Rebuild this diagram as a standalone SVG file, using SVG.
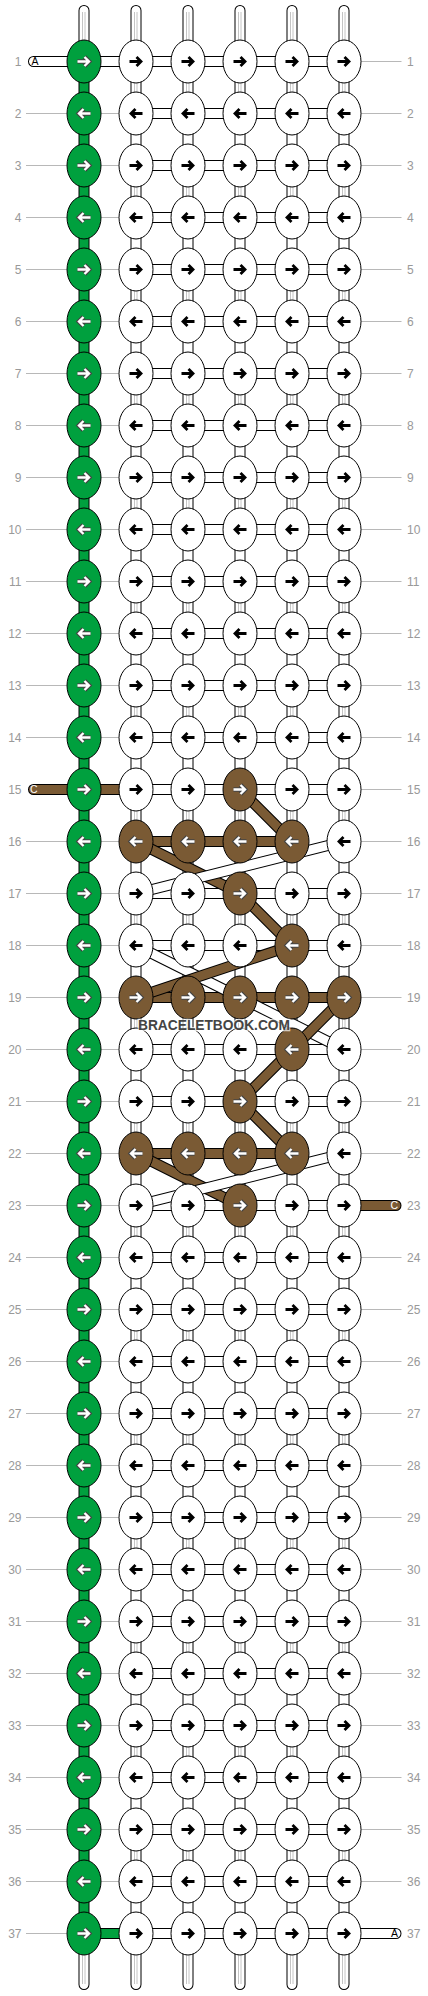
<svg xmlns="http://www.w3.org/2000/svg" xmlns:xlink="http://www.w3.org/1999/xlink" width="428" height="1996" viewBox="0 0 428 1996">
<style>
.w{fill:#fff;stroke:#000;stroke-width:1}
.g{fill:#00a03e;stroke:#000;stroke-width:1}
.b{fill:#7a5a34;stroke:#000;stroke-width:1}
.k{fill:none;stroke:#000;stroke-width:2.8}
.o{fill:none;stroke:#444;stroke-width:4.6}
.i{fill:none;stroke:#fff;stroke-width:2.4}
.ck{fill:none;stroke:#000;stroke-width:11}
.cw{fill:none;stroke:#fff;stroke-width:9}
.cb{fill:none;stroke:#7a5a34;stroke-width:9}
.cg{fill:none;stroke:#00a03e;stroke-width:9}
.rd{stroke-linecap:round;stroke-linejoin:round}
.gl{fill:none;stroke:#c4c4c4;stroke-width:1}
.ll{fill:none;stroke:#b8b8b8;stroke-width:1}
.lb{font-family:"Liberation Sans",Arial,sans-serif;font-size:12px;fill:#999}
.tl{font-family:"Liberation Sans",Arial,sans-serif;font-size:10.5px}
.wm{font-family:"Liberation Sans",Arial,sans-serif;font-size:14px;font-weight:bold;fill:#444;stroke:#fff;stroke-width:2.5;stroke-opacity:0.7;paint-order:stroke}
</style>
<defs>
<path id="a" d="M-6.5 0H5M0.5-4.5L5 0L0.5 4.5"/>
<g id="wR"><ellipse rx="17" ry="21.5" class="w"/><use href="#a" class="k"/></g>
<g id="wL"><ellipse rx="17" ry="21.5" class="w"/><use href="#a" class="k" transform="scale(-1 1)"/></g>
<g id="gR"><ellipse rx="17" ry="21.5" class="g"/><use href="#a" class="o"/><use href="#a" class="i"/></g>
<g id="gL"><ellipse rx="17" ry="21.5" class="g"/><use href="#a" class="o" transform="scale(-1 1)"/><use href="#a" class="i" transform="scale(-1 1)"/></g>
<g id="bR"><ellipse rx="17" ry="21.5" class="b"/><use href="#a" class="o"/><use href="#a" class="i"/></g>
<g id="bL"><ellipse rx="17" ry="21.5" class="b"/><use href="#a" class="o" transform="scale(-1 1)"/><use href="#a" class="i" transform="scale(-1 1)"/></g>
<path id="hw" d="M136 61.5H344M136 113.5H344M136 165.5H344M136 217.5H344M136 269.5H344M136 321.5H344M136 373.5H344M136 425.5H344M136 477.5H344M136 529.5H344M136 581.5H344M136 633.5H344M136 685.5H344M136 737.5H344M136 789.5H344M136 893.5H344M136 945.5H344M136 1049.5H344M136 1101.5H344M136 1205.5H344M136 1257.5H344M136 1309.5H344M136 1361.5H344M136 1413.5H344M136 1465.5H344M136 1517.5H344M136 1569.5H344M136 1621.5H344M136 1673.5H344M136 1725.5H344M136 1777.5H344M136 1829.5H344M136 1881.5H344M136 1933.5H344"/>
<path id="hb" d="M136 841.5H292M136 997.5H344M136 1153.5H292"/>
<path id="hg" d="M84 1933.5H136"/>
<path id="tw" d="M33.5 61.5H136M344 1933.5H396"/>
<path id="tb" d="M33.5 789.5H136M344 1205.5H396"/>
<path id="vw" d="M136 10.5V1984.5M188 10.5V1984.5M240 10.5V1984.5M292 10.5V1984.5M344 10.5V1984.5M84 10.5V61.5M84 1933.5V1984.5"/>
<path id="vg" d="M84 61.5V1933.5"/>
<path id="d1" d="M240 789.5L292 841.5M136 841.5L240 893.5M240 893.5L292 945.5"/>
<path id="d2" d="M344 841.5L136 893.5"/>
<path id="d3" d="M136 945.5L344 1049.5"/>
<path id="d4" d="M292 945.5L136 997.5"/>
<path id="d5" d="M344 997.5L292 1049.5L240 1101.5L292 1153.5M136 1153.5L240 1205.5"/>
<path id="d6" d="M344 1153.5L136 1205.5"/>
</defs>
<rect width="428" height="1996" fill="#fff"/>
<g id="connectors">
<path class="ll" d="M26 113.5H136M26 165.5H136M26 217.5H136M26 269.5H136M26 321.5H136M26 373.5H136M26 425.5H136M26 477.5H136M26 529.5H136M26 581.5H136M26 633.5H136M26 685.5H136M26 737.5H136M26 841.5H136M26 893.5H136M26 945.5H136M26 997.5H136M26 1049.5H136M26 1101.5H136M26 1153.5H136M26 1205.5H136M26 1257.5H136M26 1309.5H136M26 1361.5H136M26 1413.5H136M26 1465.5H136M26 1517.5H136M26 1569.5H136M26 1621.5H136M26 1673.5H136M26 1725.5H136M26 1777.5H136M26 1829.5H136M26 1881.5H136M26 1933.5H84M344 61.5H401.5M344 113.5H401.5M344 165.5H401.5M344 217.5H401.5M344 269.5H401.5M344 321.5H401.5M344 373.5H401.5M344 425.5H401.5M344 477.5H401.5M344 529.5H401.5M344 581.5H401.5M344 633.5H401.5M344 685.5H401.5M344 737.5H401.5M344 789.5H401.5M344 841.5H401.5M344 893.5H401.5M344 945.5H401.5M344 997.5H401.5M344 1049.5H401.5M344 1101.5H401.5M344 1153.5H401.5M344 1257.5H401.5M344 1309.5H401.5M344 1361.5H401.5M344 1413.5H401.5M344 1465.5H401.5M344 1517.5H401.5M344 1569.5H401.5M344 1621.5H401.5M344 1673.5H401.5M344 1725.5H401.5M344 1777.5H401.5M344 1829.5H401.5M344 1881.5H401.5"/>
<use href="#vw" class="ck rd"/><use href="#vw" class="cw rd"/>
<line class="gl" x1="134.5" y1="80" x2="134.5" y2="1870" stroke-dasharray="15 89"/>
<line class="gl" x1="137" y1="80" x2="137" y2="1870" stroke-dasharray="15 89"/>
<line class="gl" x1="186.5" y1="80" x2="186.5" y2="1870" stroke-dasharray="15 89"/>
<line class="gl" x1="189" y1="80" x2="189" y2="1870" stroke-dasharray="15 89"/>
<line class="gl" x1="238.5" y1="80" x2="238.5" y2="1870" stroke-dasharray="15 89"/>
<line class="gl" x1="241" y1="80" x2="241" y2="1870" stroke-dasharray="15 89"/>
<line class="gl" x1="290.5" y1="80" x2="290.5" y2="1870" stroke-dasharray="15 89"/>
<line class="gl" x1="293" y1="80" x2="293" y2="1870" stroke-dasharray="15 89"/>
<line class="gl" x1="342.5" y1="80" x2="342.5" y2="1870" stroke-dasharray="15 89"/>
<line class="gl" x1="345" y1="80" x2="345" y2="1870" stroke-dasharray="15 89"/>
<path class="gl" d="M82.5 12V45M85 12V45M134.5 12V45M137 12V45M186.5 12V45M189 12V45M238.5 12V45M241 12V45M290.5 12V45M293 12V45M342.5 12V45M345 12V45M82.5 1950V1984M85 1950V1984M134.5 1950V1984M137 1950V1984M186.5 1950V1984M189 1950V1984M238.5 1950V1984M241 1950V1984M290.5 1950V1984M293 1950V1984M342.5 1950V1984M345 1950V1984"/>
<use href="#vg" class="ck"/><use href="#vg" class="cg"/>
<use href="#hw" class="ck"/><use href="#hw" class="cw"/>
<use href="#hb" class="ck"/><use href="#hb" class="cb"/>
<use href="#hg" class="ck"/><use href="#hg" class="cg"/>
<use href="#tw" class="ck rd"/><use href="#tw" class="cw rd"/>
<use href="#tb" class="ck rd"/><use href="#tb" class="cb rd"/>
<use href="#d1" class="ck rd"/><use href="#d1" class="cb rd"/>
<use href="#d2" class="ck"/><use href="#d2" class="cw"/>
<use href="#d3" class="ck"/><use href="#d3" class="cw"/>
<use href="#d4" class="ck"/><use href="#d4" class="cb"/>
<use href="#d5" class="ck rd"/><use href="#d5" class="cb rd"/>
<use href="#d6" class="ck"/><use href="#d6" class="cw"/>
</g>
<g id="nodes">
<g id="n1_1"><use href="#gR" x="84" y="61.5"/></g><g id="n1_2"><use href="#wR" x="136" y="61.5"/></g><g id="n1_3"><use href="#wR" x="188" y="61.5"/></g><g id="n1_4"><use href="#wR" x="240" y="61.5"/></g><g id="n1_5"><use href="#wR" x="292" y="61.5"/></g><g id="n1_6"><use href="#wR" x="344" y="61.5"/></g>
<g id="n2_1"><use href="#gL" x="84" y="113.5"/></g><g id="n2_2"><use href="#wL" x="136" y="113.5"/></g><g id="n2_3"><use href="#wL" x="188" y="113.5"/></g><g id="n2_4"><use href="#wL" x="240" y="113.5"/></g><g id="n2_5"><use href="#wL" x="292" y="113.5"/></g><g id="n2_6"><use href="#wL" x="344" y="113.5"/></g>
<g id="n3_1"><use href="#gR" x="84" y="165.5"/></g><g id="n3_2"><use href="#wR" x="136" y="165.5"/></g><g id="n3_3"><use href="#wR" x="188" y="165.5"/></g><g id="n3_4"><use href="#wR" x="240" y="165.5"/></g><g id="n3_5"><use href="#wR" x="292" y="165.5"/></g><g id="n3_6"><use href="#wR" x="344" y="165.5"/></g>
<g id="n4_1"><use href="#gL" x="84" y="217.5"/></g><g id="n4_2"><use href="#wL" x="136" y="217.5"/></g><g id="n4_3"><use href="#wL" x="188" y="217.5"/></g><g id="n4_4"><use href="#wL" x="240" y="217.5"/></g><g id="n4_5"><use href="#wL" x="292" y="217.5"/></g><g id="n4_6"><use href="#wL" x="344" y="217.5"/></g>
<g id="n5_1"><use href="#gR" x="84" y="269.5"/></g><g id="n5_2"><use href="#wR" x="136" y="269.5"/></g><g id="n5_3"><use href="#wR" x="188" y="269.5"/></g><g id="n5_4"><use href="#wR" x="240" y="269.5"/></g><g id="n5_5"><use href="#wR" x="292" y="269.5"/></g><g id="n5_6"><use href="#wR" x="344" y="269.5"/></g>
<g id="n6_1"><use href="#gL" x="84" y="321.5"/></g><g id="n6_2"><use href="#wL" x="136" y="321.5"/></g><g id="n6_3"><use href="#wL" x="188" y="321.5"/></g><g id="n6_4"><use href="#wL" x="240" y="321.5"/></g><g id="n6_5"><use href="#wL" x="292" y="321.5"/></g><g id="n6_6"><use href="#wL" x="344" y="321.5"/></g>
<g id="n7_1"><use href="#gR" x="84" y="373.5"/></g><g id="n7_2"><use href="#wR" x="136" y="373.5"/></g><g id="n7_3"><use href="#wR" x="188" y="373.5"/></g><g id="n7_4"><use href="#wR" x="240" y="373.5"/></g><g id="n7_5"><use href="#wR" x="292" y="373.5"/></g><g id="n7_6"><use href="#wR" x="344" y="373.5"/></g>
<g id="n8_1"><use href="#gL" x="84" y="425.5"/></g><g id="n8_2"><use href="#wL" x="136" y="425.5"/></g><g id="n8_3"><use href="#wL" x="188" y="425.5"/></g><g id="n8_4"><use href="#wL" x="240" y="425.5"/></g><g id="n8_5"><use href="#wL" x="292" y="425.5"/></g><g id="n8_6"><use href="#wL" x="344" y="425.5"/></g>
<g id="n9_1"><use href="#gR" x="84" y="477.5"/></g><g id="n9_2"><use href="#wR" x="136" y="477.5"/></g><g id="n9_3"><use href="#wR" x="188" y="477.5"/></g><g id="n9_4"><use href="#wR" x="240" y="477.5"/></g><g id="n9_5"><use href="#wR" x="292" y="477.5"/></g><g id="n9_6"><use href="#wR" x="344" y="477.5"/></g>
<g id="n10_1"><use href="#gL" x="84" y="529.5"/></g><g id="n10_2"><use href="#wL" x="136" y="529.5"/></g><g id="n10_3"><use href="#wL" x="188" y="529.5"/></g><g id="n10_4"><use href="#wL" x="240" y="529.5"/></g><g id="n10_5"><use href="#wL" x="292" y="529.5"/></g><g id="n10_6"><use href="#wL" x="344" y="529.5"/></g>
<g id="n11_1"><use href="#gR" x="84" y="581.5"/></g><g id="n11_2"><use href="#wR" x="136" y="581.5"/></g><g id="n11_3"><use href="#wR" x="188" y="581.5"/></g><g id="n11_4"><use href="#wR" x="240" y="581.5"/></g><g id="n11_5"><use href="#wR" x="292" y="581.5"/></g><g id="n11_6"><use href="#wR" x="344" y="581.5"/></g>
<g id="n12_1"><use href="#gL" x="84" y="633.5"/></g><g id="n12_2"><use href="#wL" x="136" y="633.5"/></g><g id="n12_3"><use href="#wL" x="188" y="633.5"/></g><g id="n12_4"><use href="#wL" x="240" y="633.5"/></g><g id="n12_5"><use href="#wL" x="292" y="633.5"/></g><g id="n12_6"><use href="#wL" x="344" y="633.5"/></g>
<g id="n13_1"><use href="#gR" x="84" y="685.5"/></g><g id="n13_2"><use href="#wR" x="136" y="685.5"/></g><g id="n13_3"><use href="#wR" x="188" y="685.5"/></g><g id="n13_4"><use href="#wR" x="240" y="685.5"/></g><g id="n13_5"><use href="#wR" x="292" y="685.5"/></g><g id="n13_6"><use href="#wR" x="344" y="685.5"/></g>
<g id="n14_1"><use href="#gL" x="84" y="737.5"/></g><g id="n14_2"><use href="#wL" x="136" y="737.5"/></g><g id="n14_3"><use href="#wL" x="188" y="737.5"/></g><g id="n14_4"><use href="#wL" x="240" y="737.5"/></g><g id="n14_5"><use href="#wL" x="292" y="737.5"/></g><g id="n14_6"><use href="#wL" x="344" y="737.5"/></g>
<g id="n15_1"><use href="#gR" x="84" y="789.5"/></g><g id="n15_2"><use href="#wR" x="136" y="789.5"/></g><g id="n15_3"><use href="#wR" x="188" y="789.5"/></g><g id="n15_4"><use href="#bR" x="240" y="789.5"/></g><g id="n15_5"><use href="#wR" x="292" y="789.5"/></g><g id="n15_6"><use href="#wR" x="344" y="789.5"/></g>
<g id="n16_1"><use href="#gL" x="84" y="841.5"/></g><g id="n16_2"><use href="#bL" x="136" y="841.5"/></g><g id="n16_3"><use href="#bL" x="188" y="841.5"/></g><g id="n16_4"><use href="#bL" x="240" y="841.5"/></g><g id="n16_5"><use href="#bL" x="292" y="841.5"/></g><g id="n16_6"><use href="#wL" x="344" y="841.5"/></g>
<g id="n17_1"><use href="#gR" x="84" y="893.5"/></g><g id="n17_2"><use href="#wR" x="136" y="893.5"/></g><g id="n17_3"><use href="#wR" x="188" y="893.5"/></g><g id="n17_4"><use href="#bR" x="240" y="893.5"/></g><g id="n17_5"><use href="#wR" x="292" y="893.5"/></g><g id="n17_6"><use href="#wR" x="344" y="893.5"/></g>
<g id="n18_1"><use href="#gL" x="84" y="945.5"/></g><g id="n18_2"><use href="#wL" x="136" y="945.5"/></g><g id="n18_3"><use href="#wL" x="188" y="945.5"/></g><g id="n18_4"><use href="#wL" x="240" y="945.5"/></g><g id="n18_5"><use href="#bL" x="292" y="945.5"/></g><g id="n18_6"><use href="#wL" x="344" y="945.5"/></g>
<g id="n19_1"><use href="#gR" x="84" y="997.5"/></g><g id="n19_2"><use href="#bR" x="136" y="997.5"/></g><g id="n19_3"><use href="#bR" x="188" y="997.5"/></g><g id="n19_4"><use href="#bR" x="240" y="997.5"/></g><g id="n19_5"><use href="#bR" x="292" y="997.5"/></g><g id="n19_6"><use href="#bR" x="344" y="997.5"/></g>
<g id="n20_1"><use href="#gL" x="84" y="1049.5"/></g><g id="n20_2"><use href="#wL" x="136" y="1049.5"/></g><g id="n20_3"><use href="#wL" x="188" y="1049.5"/></g><g id="n20_4"><use href="#wL" x="240" y="1049.5"/></g><g id="n20_5"><use href="#bL" x="292" y="1049.5"/></g><g id="n20_6"><use href="#wL" x="344" y="1049.5"/></g>
<g id="n21_1"><use href="#gR" x="84" y="1101.5"/></g><g id="n21_2"><use href="#wR" x="136" y="1101.5"/></g><g id="n21_3"><use href="#wR" x="188" y="1101.5"/></g><g id="n21_4"><use href="#bR" x="240" y="1101.5"/></g><g id="n21_5"><use href="#wR" x="292" y="1101.5"/></g><g id="n21_6"><use href="#wR" x="344" y="1101.5"/></g>
<g id="n22_1"><use href="#gL" x="84" y="1153.5"/></g><g id="n22_2"><use href="#bL" x="136" y="1153.5"/></g><g id="n22_3"><use href="#bL" x="188" y="1153.5"/></g><g id="n22_4"><use href="#bL" x="240" y="1153.5"/></g><g id="n22_5"><use href="#bL" x="292" y="1153.5"/></g><g id="n22_6"><use href="#wL" x="344" y="1153.5"/></g>
<g id="n23_1"><use href="#gR" x="84" y="1205.5"/></g><g id="n23_2"><use href="#wR" x="136" y="1205.5"/></g><g id="n23_3"><use href="#wR" x="188" y="1205.5"/></g><g id="n23_4"><use href="#bR" x="240" y="1205.5"/></g><g id="n23_5"><use href="#wR" x="292" y="1205.5"/></g><g id="n23_6"><use href="#wR" x="344" y="1205.5"/></g>
<g id="n24_1"><use href="#gL" x="84" y="1257.5"/></g><g id="n24_2"><use href="#wL" x="136" y="1257.5"/></g><g id="n24_3"><use href="#wL" x="188" y="1257.5"/></g><g id="n24_4"><use href="#wL" x="240" y="1257.5"/></g><g id="n24_5"><use href="#wL" x="292" y="1257.5"/></g><g id="n24_6"><use href="#wL" x="344" y="1257.5"/></g>
<g id="n25_1"><use href="#gR" x="84" y="1309.5"/></g><g id="n25_2"><use href="#wR" x="136" y="1309.5"/></g><g id="n25_3"><use href="#wR" x="188" y="1309.5"/></g><g id="n25_4"><use href="#wR" x="240" y="1309.5"/></g><g id="n25_5"><use href="#wR" x="292" y="1309.5"/></g><g id="n25_6"><use href="#wR" x="344" y="1309.5"/></g>
<g id="n26_1"><use href="#gL" x="84" y="1361.5"/></g><g id="n26_2"><use href="#wL" x="136" y="1361.5"/></g><g id="n26_3"><use href="#wL" x="188" y="1361.5"/></g><g id="n26_4"><use href="#wL" x="240" y="1361.5"/></g><g id="n26_5"><use href="#wL" x="292" y="1361.5"/></g><g id="n26_6"><use href="#wL" x="344" y="1361.5"/></g>
<g id="n27_1"><use href="#gR" x="84" y="1413.5"/></g><g id="n27_2"><use href="#wR" x="136" y="1413.5"/></g><g id="n27_3"><use href="#wR" x="188" y="1413.5"/></g><g id="n27_4"><use href="#wR" x="240" y="1413.5"/></g><g id="n27_5"><use href="#wR" x="292" y="1413.5"/></g><g id="n27_6"><use href="#wR" x="344" y="1413.5"/></g>
<g id="n28_1"><use href="#gL" x="84" y="1465.5"/></g><g id="n28_2"><use href="#wL" x="136" y="1465.5"/></g><g id="n28_3"><use href="#wL" x="188" y="1465.5"/></g><g id="n28_4"><use href="#wL" x="240" y="1465.5"/></g><g id="n28_5"><use href="#wL" x="292" y="1465.5"/></g><g id="n28_6"><use href="#wL" x="344" y="1465.5"/></g>
<g id="n29_1"><use href="#gR" x="84" y="1517.5"/></g><g id="n29_2"><use href="#wR" x="136" y="1517.5"/></g><g id="n29_3"><use href="#wR" x="188" y="1517.5"/></g><g id="n29_4"><use href="#wR" x="240" y="1517.5"/></g><g id="n29_5"><use href="#wR" x="292" y="1517.5"/></g><g id="n29_6"><use href="#wR" x="344" y="1517.5"/></g>
<g id="n30_1"><use href="#gL" x="84" y="1569.5"/></g><g id="n30_2"><use href="#wL" x="136" y="1569.5"/></g><g id="n30_3"><use href="#wL" x="188" y="1569.5"/></g><g id="n30_4"><use href="#wL" x="240" y="1569.5"/></g><g id="n30_5"><use href="#wL" x="292" y="1569.5"/></g><g id="n30_6"><use href="#wL" x="344" y="1569.5"/></g>
<g id="n31_1"><use href="#gR" x="84" y="1621.5"/></g><g id="n31_2"><use href="#wR" x="136" y="1621.5"/></g><g id="n31_3"><use href="#wR" x="188" y="1621.5"/></g><g id="n31_4"><use href="#wR" x="240" y="1621.5"/></g><g id="n31_5"><use href="#wR" x="292" y="1621.5"/></g><g id="n31_6"><use href="#wR" x="344" y="1621.5"/></g>
<g id="n32_1"><use href="#gL" x="84" y="1673.5"/></g><g id="n32_2"><use href="#wL" x="136" y="1673.5"/></g><g id="n32_3"><use href="#wL" x="188" y="1673.5"/></g><g id="n32_4"><use href="#wL" x="240" y="1673.5"/></g><g id="n32_5"><use href="#wL" x="292" y="1673.5"/></g><g id="n32_6"><use href="#wL" x="344" y="1673.5"/></g>
<g id="n33_1"><use href="#gR" x="84" y="1725.5"/></g><g id="n33_2"><use href="#wR" x="136" y="1725.5"/></g><g id="n33_3"><use href="#wR" x="188" y="1725.5"/></g><g id="n33_4"><use href="#wR" x="240" y="1725.5"/></g><g id="n33_5"><use href="#wR" x="292" y="1725.5"/></g><g id="n33_6"><use href="#wR" x="344" y="1725.5"/></g>
<g id="n34_1"><use href="#gL" x="84" y="1777.5"/></g><g id="n34_2"><use href="#wL" x="136" y="1777.5"/></g><g id="n34_3"><use href="#wL" x="188" y="1777.5"/></g><g id="n34_4"><use href="#wL" x="240" y="1777.5"/></g><g id="n34_5"><use href="#wL" x="292" y="1777.5"/></g><g id="n34_6"><use href="#wL" x="344" y="1777.5"/></g>
<g id="n35_1"><use href="#gR" x="84" y="1829.5"/></g><g id="n35_2"><use href="#wR" x="136" y="1829.5"/></g><g id="n35_3"><use href="#wR" x="188" y="1829.5"/></g><g id="n35_4"><use href="#wR" x="240" y="1829.5"/></g><g id="n35_5"><use href="#wR" x="292" y="1829.5"/></g><g id="n35_6"><use href="#wR" x="344" y="1829.5"/></g>
<g id="n36_1"><use href="#gL" x="84" y="1881.5"/></g><g id="n36_2"><use href="#wL" x="136" y="1881.5"/></g><g id="n36_3"><use href="#wL" x="188" y="1881.5"/></g><g id="n36_4"><use href="#wL" x="240" y="1881.5"/></g><g id="n36_5"><use href="#wL" x="292" y="1881.5"/></g><g id="n36_6"><use href="#wL" x="344" y="1881.5"/></g>
<g id="n37_1"><use href="#gR" x="84" y="1933.5"/></g><g id="n37_2"><use href="#wR" x="136" y="1933.5"/></g><g id="n37_3"><use href="#wR" x="188" y="1933.5"/></g><g id="n37_4"><use href="#wR" x="240" y="1933.5"/></g><g id="n37_5"><use href="#wR" x="292" y="1933.5"/></g><g id="n37_6"><use href="#wR" x="344" y="1933.5"/></g>
</g>
<g id="labels">
<text class="lb" text-anchor="end" x="21.5" y="65.5">1</text><text class="lb" x="407" y="65.5">1</text>
<text class="lb" text-anchor="end" x="21.5" y="117.5">2</text><text class="lb" x="407" y="117.5">2</text>
<text class="lb" text-anchor="end" x="21.5" y="169.5">3</text><text class="lb" x="407" y="169.5">3</text>
<text class="lb" text-anchor="end" x="21.5" y="221.5">4</text><text class="lb" x="407" y="221.5">4</text>
<text class="lb" text-anchor="end" x="21.5" y="273.5">5</text><text class="lb" x="407" y="273.5">5</text>
<text class="lb" text-anchor="end" x="21.5" y="325.5">6</text><text class="lb" x="407" y="325.5">6</text>
<text class="lb" text-anchor="end" x="21.5" y="377.5">7</text><text class="lb" x="407" y="377.5">7</text>
<text class="lb" text-anchor="end" x="21.5" y="429.5">8</text><text class="lb" x="407" y="429.5">8</text>
<text class="lb" text-anchor="end" x="21.5" y="481.5">9</text><text class="lb" x="407" y="481.5">9</text>
<text class="lb" text-anchor="end" x="21.5" y="533.5">10</text><text class="lb" x="407" y="533.5">10</text>
<text class="lb" text-anchor="end" x="21.5" y="585.5">11</text><text class="lb" x="407" y="585.5">11</text>
<text class="lb" text-anchor="end" x="21.5" y="637.5">12</text><text class="lb" x="407" y="637.5">12</text>
<text class="lb" text-anchor="end" x="21.5" y="689.5">13</text><text class="lb" x="407" y="689.5">13</text>
<text class="lb" text-anchor="end" x="21.5" y="741.5">14</text><text class="lb" x="407" y="741.5">14</text>
<text class="lb" text-anchor="end" x="21.5" y="793.5">15</text><text class="lb" x="407" y="793.5">15</text>
<text class="lb" text-anchor="end" x="21.5" y="845.5">16</text><text class="lb" x="407" y="845.5">16</text>
<text class="lb" text-anchor="end" x="21.5" y="897.5">17</text><text class="lb" x="407" y="897.5">17</text>
<text class="lb" text-anchor="end" x="21.5" y="949.5">18</text><text class="lb" x="407" y="949.5">18</text>
<text class="lb" text-anchor="end" x="21.5" y="1001.5">19</text><text class="lb" x="407" y="1001.5">19</text>
<text class="lb" text-anchor="end" x="21.5" y="1053.5">20</text><text class="lb" x="407" y="1053.5">20</text>
<text class="lb" text-anchor="end" x="21.5" y="1105.5">21</text><text class="lb" x="407" y="1105.5">21</text>
<text class="lb" text-anchor="end" x="21.5" y="1157.5">22</text><text class="lb" x="407" y="1157.5">22</text>
<text class="lb" text-anchor="end" x="21.5" y="1209.5">23</text><text class="lb" x="407" y="1209.5">23</text>
<text class="lb" text-anchor="end" x="21.5" y="1261.5">24</text><text class="lb" x="407" y="1261.5">24</text>
<text class="lb" text-anchor="end" x="21.5" y="1313.5">25</text><text class="lb" x="407" y="1313.5">25</text>
<text class="lb" text-anchor="end" x="21.5" y="1365.5">26</text><text class="lb" x="407" y="1365.5">26</text>
<text class="lb" text-anchor="end" x="21.5" y="1417.5">27</text><text class="lb" x="407" y="1417.5">27</text>
<text class="lb" text-anchor="end" x="21.5" y="1469.5">28</text><text class="lb" x="407" y="1469.5">28</text>
<text class="lb" text-anchor="end" x="21.5" y="1521.5">29</text><text class="lb" x="407" y="1521.5">29</text>
<text class="lb" text-anchor="end" x="21.5" y="1573.5">30</text><text class="lb" x="407" y="1573.5">30</text>
<text class="lb" text-anchor="end" x="21.5" y="1625.5">31</text><text class="lb" x="407" y="1625.5">31</text>
<text class="lb" text-anchor="end" x="21.5" y="1677.5">32</text><text class="lb" x="407" y="1677.5">32</text>
<text class="lb" text-anchor="end" x="21.5" y="1729.5">33</text><text class="lb" x="407" y="1729.5">33</text>
<text class="lb" text-anchor="end" x="21.5" y="1781.5">34</text><text class="lb" x="407" y="1781.5">34</text>
<text class="lb" text-anchor="end" x="21.5" y="1833.5">35</text><text class="lb" x="407" y="1833.5">35</text>
<text class="lb" text-anchor="end" x="21.5" y="1885.5">36</text><text class="lb" x="407" y="1885.5">36</text>
<text class="lb" text-anchor="end" x="21.5" y="1937.5">37</text><text class="lb" x="407" y="1937.5">37</text>
<text class="tl" x="31.5" y="65.3" fill="#000">A</text>
<text class="tl" x="398" y="1937.3" text-anchor="end" fill="#000">A</text>
<text class="tl" x="30" y="793.3" fill="#fff">C</text>
<text class="tl" x="398" y="1209.3" text-anchor="end" fill="#fff">C</text>
<text class="wm" x="214" y="1029.5" text-anchor="middle" textLength="152" lengthAdjust="spacingAndGlyphs">BRACELETBOOK.COM</text>
</g>
</svg>
